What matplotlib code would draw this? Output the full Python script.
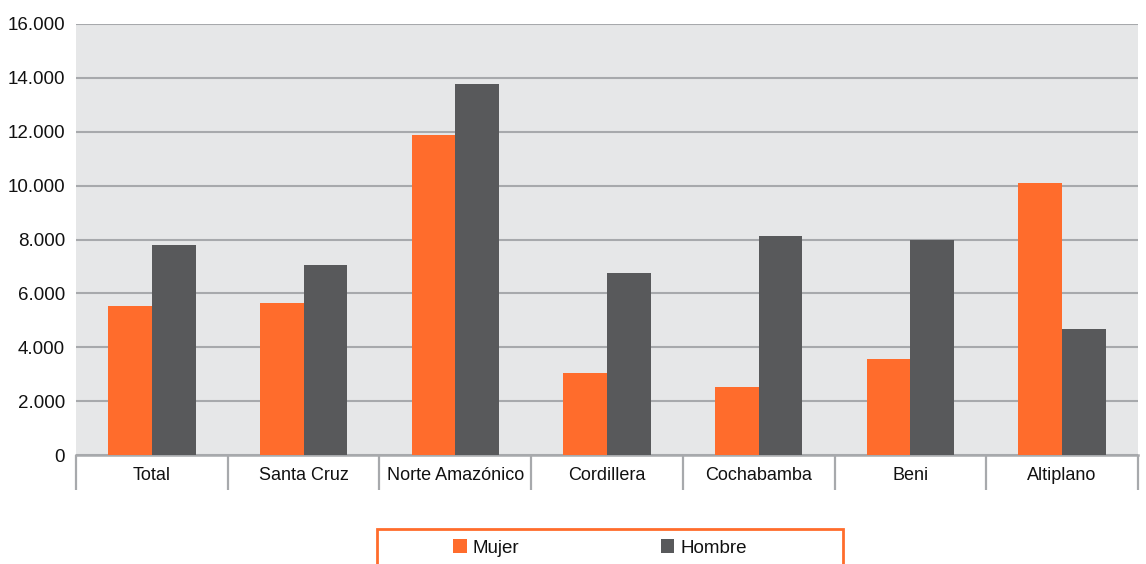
import matplotlib
matplotlib.use("Agg")
import matplotlib.pyplot as plt
import numpy as np
from matplotlib.patches import Rectangle
from matplotlib.ticker import FuncFormatter, FixedLocator

categories = ["Total", "Santa Cruz", "Norte Amazónico", "Cordillera",
              "Cochabamba", "Beni", "Altiplano"]
mujer = [5530, 5640, 11890, 3040, 2520, 3560, 10110]
hombre = [7800, 7050, 13770, 6760, 8130, 7980, 4670]
series_labels = ["Mujer", "Hombre"]
y_ticks = [0, 2000, 4000, 6000, 8000, 10000, 12000, 14000, 16000]

ORANGE = "#ff6c2c"
DARK = "#58595b"
BG = "#e6e7e8"
GRID = "#a7a9ac"

plt.rcParams["font.family"] = ["Liberation Sans", "DejaVu Sans"]

fig = plt.figure(figsize=(11.46, 5.64), dpi=100)
ax = fig.add_axes([76 / 1146, 1 - 455 / 564, (1138 - 76) / 1146, (455 - 24) / 564])
ax.set_facecolor(BG)

x = np.arange(len(categories))
w = 0.288
ax.bar(x - w / 2, mujer, w, color=ORANGE, label=series_labels[0], zorder=3)
ax.bar(x + w / 2, hombre, w, color=DARK, label=series_labels[1], zorder=3)

ax.set_xlim(-0.5, len(categories) - 0.5)
ax.set_ylim(0, 16000)
ax.set_yticks(y_ticks)
ax.yaxis.set_major_formatter(FuncFormatter(lambda v, p: f"{int(v):,}".replace(",", ".")))
ax.yaxis.grid(True, color=GRID, linewidth=1.5, zorder=1)
ax.set_axisbelow(True)
ax.tick_params(axis="y", length=0, pad=8, labelsize=13.5, labelcolor="#111111")

ax.set_xticks(x)
ax.set_xticklabels(categories)
ax.tick_params(axis="x", which="major", length=0, pad=9, labelsize=13, labelcolor="#111111")
ax.xaxis.set_minor_locator(FixedLocator(np.arange(-0.5, len(categories), 1.0)))
ax.tick_params(axis="x", which="minor", length=25, width=1.6, color=GRID, direction="out")

for s in ["left", "right", "top"]:
    ax.spines[s].set_visible(False)
ax.spines["bottom"].set_color(GRID)
ax.spines["bottom"].set_linewidth(1.8)

# legend frame at the bottom of the figure
fig.patches.append(Rectangle((377 / 1146, -0.02), (843 - 377) / 1146, (564 - 529) / 564 + 0.02,
                             transform=fig.transFigure, fill=False, edgecolor=ORANGE,
                             linewidth=2, clip_on=False))
leg = fig.legend(loc="center", bbox_to_anchor=(600 / 1146, 1 - 548 / 564), ncol=2,
                 frameon=False, fontsize=13.5, handlelength=0.7, handleheight=0.7,
                 handletextpad=0.3, columnspacing=7.6)
for t in leg.get_texts():
    t.set_color("#111111")

fig.savefig("out.png", dpi=100)
